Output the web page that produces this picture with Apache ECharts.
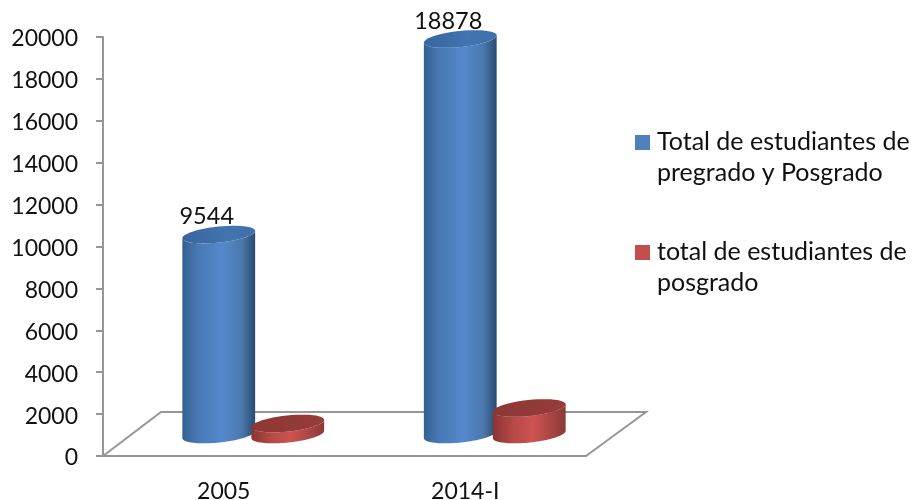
<!DOCTYPE html>
<html>
<head>
<meta charset="utf-8">
<style>
	html, body { margin: 0; padding: 0; background: #fff; }
	#chart { width: 913px; height: 500px; }
</style>
<script src="https://cdn.jsdelivr.net/npm/echarts@6/dist/echarts.min.js"></script>
</head>
<body>
<div id="chart"></div>
<script>
const categories = ['2005', '2014-I'];
const totalValues = [9544, 18878];
const posgradoValues = [525, 1265];
const totalName = 'Total de estudiantes de\npregrado y Posgrado';
const posgradoName = 'total de estudiantes de\nposgrado';

const FONT = 'Lato';
const AXIS_COLOR = '#969696';
const DEPTH_X = 59;	// shift of the back edge of the floor
const DEPTH_Y = 44;
const RX = 36.6;
const RY = 8;
const TILT = 6 * Math.PI / 180;

function ellipsePoints (cx, cy, from, to) {
	let pts = [];
	for (let i = 0; i <= 48; i++) {
		let t = from + (to - from) * i / 48;
		let ex = RX * Math.cos(t), ey = RY * Math.sin(t);
		pts.push([cx + ex * Math.cos(TILT) + ey * Math.sin(TILT), cy - ex * Math.sin(TILT) + ey * Math.cos(TILT)]);
	}
	return pts;
}

function hGrad (stops) {
	return {
		type: 'linear', x: 0, y: 0, x2: 1, y2: 0,
		colorStops: stops.map(c => ({ offset: c[0], color: c[1] }))
	};
}

const blueLook = {
	wall: hGrad([[0, '#34608f'], [0.2, '#4878b4'], [0.55, '#5589cc'], [0.82, '#4a78ac'], [1, '#2a4a70']]),
	top: hGrad([[0, '#37659f'], [0.6, '#4274af'], [1, '#3f70aa']])
};
const redLook = {
	wall: hGrad([[0, '#8a3533'], [0.3, '#b84a48'], [0.55, '#cd5352'], [0.8, '#a84543'], [1, '#8a3a38']]),
	top: hGrad([[0, '#8d3735'], [1, '#963c3a']])
};

// one cylinder, standing in the middle of the floor depth
function cylinder (shift, look, showLabel) {
	return function (params, api) {
		let val = api.value(1);
		let top = api.coord([api.value(0), val]);
		let base = api.coord([api.value(0), 0]);
		let cx = base[0] + shift;
		let baseY = base[1] - 21.5;
		let topY = top[1] - 21.5;
		let wall = ellipsePoints(cx, baseY, 0, Math.PI).concat(ellipsePoints(cx, topY, Math.PI, 0));
		let children = [
			{ type: 'polygon', shape: { points: wall }, style: { fill: look.wall } },
			{ type: 'polygon', shape: { points: ellipsePoints(cx, topY, 0, Math.PI * 2) }, style: { fill: look.top } }
		];
		if (showLabel) {
			children.push({
				type: 'text',
				style: {
					x: cx - 12, y: topY - 18,
					text: String(val),
					align: 'center', verticalAlign: 'middle',
					font: '23.5px ' + FONT, fill: '#111'
				}
			});
		}
		return { type: 'group', children: children };
	};
}

function renderFloor (params, api) {
	let r = params.coordSys;
	let left = r.x, right = r.x + r.width, front = r.y + r.height;
	return {
		type: 'polyline',
		shape: { points: [[left, front], [left + DEPTH_X - 1, front - DEPTH_Y], [right + DEPTH_X + 1, front - DEPTH_Y], [right, front]] },
		style: { fill: 'none', stroke: AXIS_COLOR, lineWidth: 2 }
	};
}

// transparent points stretch the box so the square sits beside the first text line
function legendIcon () {
	return 'path://M0,0 M0,9 H15 V24 H0 Z M17,62';
}

let opt = {
	animation: false,
	backgroundColor: '#fff',
	grid: { left: 103, top: 37, width: 483, height: 419, containLabel: false, outerBoundsMode: 'none' },
	legend: {
		left: 630,
		top: 121,
		orient: 'vertical',
		itemWidth: 17,
		itemHeight: 62,
		itemGap: 48,
		textStyle: { fontFamily: FONT, fontSize: 25, lineHeight: 31, color: '#111' },
		data: [
			{ name: totalName, icon: legendIcon() },
			{ name: posgradoName, icon: legendIcon() }
		]
	},
	xAxis: {
		type: 'category',
		data: categories,
		axisLine: { lineStyle: { color: AXIS_COLOR, width: 2 } },
		axisTick: { length: 8, lineStyle: { color: AXIS_COLOR, width: 2 } },
		axisLabel: { margin: 24, fontFamily: FONT, fontSize: 23, color: '#111' }
	},
	yAxis: {
		type: 'value',
		min: 0,
		max: 20000,
		interval: 2000,
		splitLine: { show: false },
		axisLine: { show: true, lineStyle: { color: AXIS_COLOR, width: 2 } },
		axisTick: { show: true, length: 7, lineStyle: { color: AXIS_COLOR, width: 2 } },
		axisLabel: {
			margin: 25, fontFamily: FONT, fontSize: 23, color: '#111',
			verticalAlign: 'top',
			lineHeight: 4,
			formatter: v => String(v)
		}
	},
	series: [
		{
			type: 'custom',
			name: 'piso',
			renderItem: renderFloor,
			data: [[0, 0]],
			silent: true
		},
		{
			type: 'custom',
			name: totalName,
			itemStyle: { color: '#4f81bd' },
			encode: { x: 0, y: 1 },
			renderItem: cylinder(-5, blueLook, true),
			data: totalValues.map((v, i) => [i, v])
		},
		{
			type: 'custom',
			name: posgradoName,
			itemStyle: { color: '#c0504d' },
			encode: { x: 0, y: 1 },
			renderItem: cylinder(64, redLook, false),
			data: posgradoValues.map((v, i) => [i, v])
		}
	]
};

let canvas = echarts.init(document.querySelector('#chart'));
canvas.setOption(opt);
</script>
</body>
</html>
